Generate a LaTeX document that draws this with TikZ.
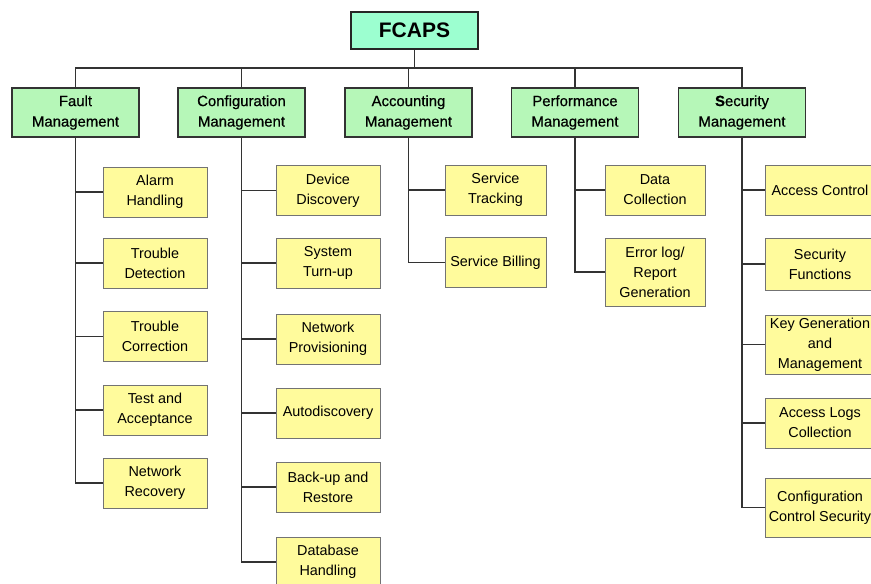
\documentclass[tikz,border=0pt]{standalone}
\usepackage{fontspec}
\setmainfont{Liberation Sans}
\newfontfamily\areafont[FakeBold=0.6]{Liberation Sans}
\begin{document}
\begin{tikzpicture}[x=1pt,y=-1pt,
  rootbox/.style={draw=black!85,line width=1.6pt,fill=rootfill,minimum width=127pt,minimum height=37pt,inner sep=0pt,
    font=\fontsize{21}{24}\selectfont\bfseries},
  areabox/.style={draw=black!80,line width=1.4pt,fill=areafill,minimum width=127pt,minimum height=49pt,inner sep=0pt,
    align=center,font=\areafont\fontsize{14.9}{20.5}\selectfont},
  taskbox/.style={draw=black!55,line width=0.9pt,fill=taskfill,minimum height=50pt,inner sep=0pt,
    align=center,font=\fontsize{14.4}{20}\selectfont},
  link/.style={draw=black!80,line width=1.3pt}]
\definecolor{rootfill}{HTML}{9CFFD0}
\definecolor{areafill}{HTML}{B6F7B8}
\definecolor{taskfill}{HTML}{FFFB9C}
\useasboundingbox (0,0) rectangle (871,584);

% top node and the five management areas
\node[rootbox] (fcaps) at (414.5,30.5) {FCAPS};
\coordinate (bus) at (414.5,68);
\node[areabox] (fault) at (75.5,112.5) {Fault\\Management};
\node[areabox] (conf) at (241.5,112.5) {Configuration\\Management};
\node[areabox] (acct) at (408.5,112.5) {Accounting\\Management};
\node[areabox] (perf) at (575,112.5) {Performance\\Management};
\node[areabox] (secu) at (742,112.5) {{\bfseries S}ecurity\\Management};

% fault management tasks
\node[taskbox,minimum width=104pt] (f1) at (155,192) {Alarm\\Handling};
\node[taskbox,minimum width=104pt] (f2) at (155,263) {Trouble\\Detection};
\node[taskbox,minimum width=104pt] (f3) at (155,336.5) {Trouble\\Correction};
\node[taskbox,minimum width=104pt] (f4) at (155,410) {Test and\\Acceptance};
\node[taskbox,minimum width=104pt] (f5) at (155,483) {Network\\Recovery};

% configuration management tasks
\node[taskbox,minimum width=104pt] (c1) at (328,190.5) {Device\\Discovery};
\node[taskbox,minimum width=104pt] (c2) at (328,263) {System\\Turn-up};
\node[taskbox,minimum width=104pt] (c3) at (328,339) {Network\\Provisioning};
\node[taskbox,minimum width=104pt] (c4) at (328,413) {Autodiscovery};
\node[taskbox,minimum width=104pt] (c5) at (328,487) {Back-up and\\Restore};
\node[taskbox,minimum width=104pt] (c6) at (328,562) {Database\\Handling};

% accounting management tasks
\node[taskbox,minimum width=101pt] (a1) at (495.5,190) {Service\\Tracking};
\node[taskbox,minimum width=101pt] (a2) at (495.5,262.5) {Service Billing};

% performance management tasks
\node[taskbox,minimum width=100pt] (p1) at (655,190) {Data\\Collection};
\node[taskbox,minimum width=100pt,minimum height=68pt] (p2) at (655,272) {Error log/\\Report\\Generation};

% security management tasks
\node[taskbox,minimum width=110pt] (s1) at (820,190) {Access Control};
\node[taskbox,minimum width=110pt,minimum height=52pt] (s2) at (820,264) {Security\\Functions};
\node[taskbox,minimum width=110pt,minimum height=59pt] (s3) at (820,344.5) {Key Generation\\and\\Management};
\node[taskbox,minimum width=110pt] (s4) at (820,423) {Access Logs\\Collection};
\node[taskbox,minimum width=110pt,minimum height=59pt] (s5) at (820,507.5) {Configuration\\Control Security};

% tree connectors
\draw[link] (fcaps.south) -- (bus);
\foreach \a in {fault,conf,acct,perf,secu}
  \draw[link] (\a.north) |- (bus);
\foreach \t in {f1,f2,f3,f4,f5}
  \draw[link] (fault.south) |- (\t.west);
\foreach \t in {c1,c2,c3,c4,c5,c6}
  \draw[link] (conf.south) |- (\t.west);
\foreach \t in {a1,a2}
  \draw[link] (acct.south) |- (\t.west);
\foreach \t in {p1,p2}
  \draw[link] (perf.south) |- (\t.west);
\foreach \t in {s1,s2,s3,s4,s5}
  \draw[link] (secu.south) |- (\t.west);
\end{tikzpicture}
\end{document}
